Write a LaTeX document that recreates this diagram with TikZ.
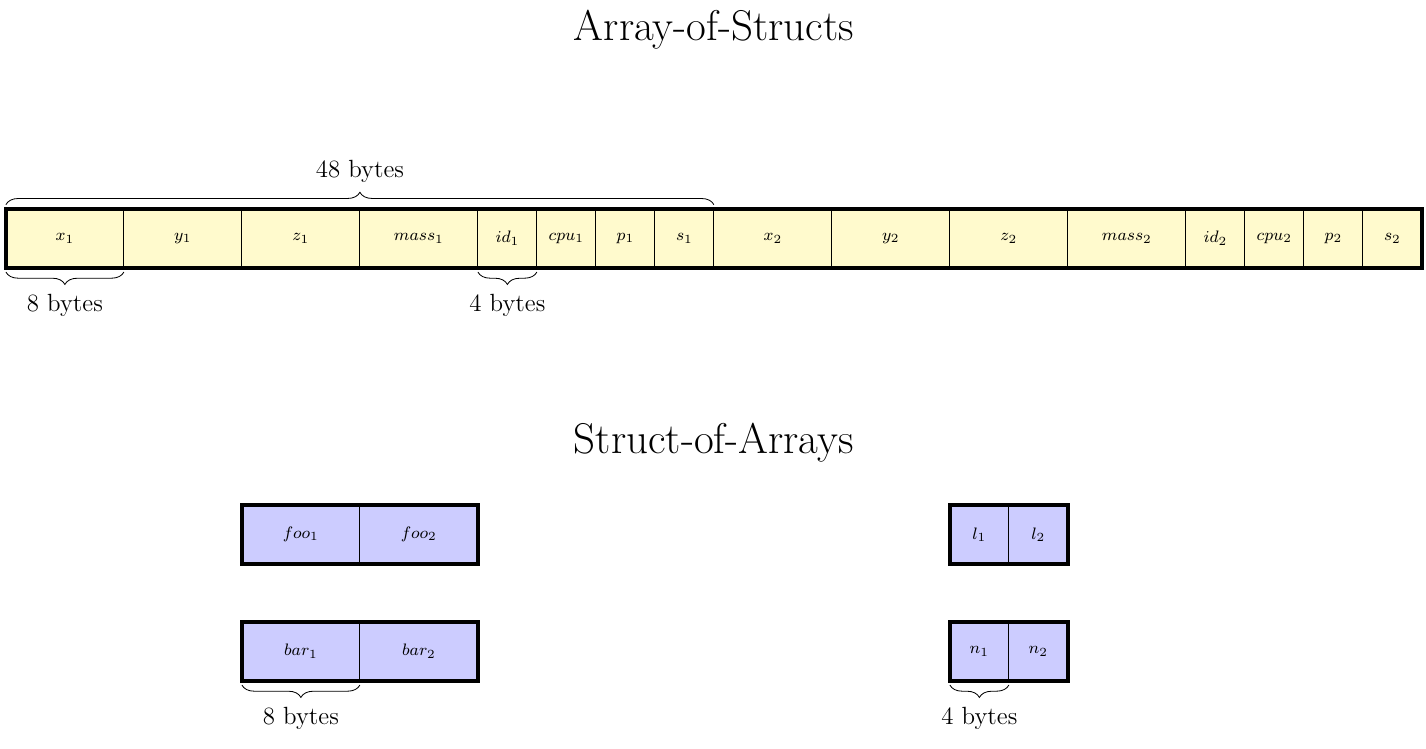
\documentclass[tikz,border=0pt]{standalone}
\usetikzlibrary{decorations.pathreplacing,positioning}
\definecolor{aosfill}{HTML}{FFFACD}
\definecolor{soafill}{HTML}{CCCCFF}
\tikzset{
  cell/.style={draw, thin, minimum height=1cm, inner sep=0pt, outer sep=0pt, anchor=north west, font=\footnotesize},
  bytebrace/.style={decorate, decoration={brace, amplitude=6pt, raise=2pt}},
  bytelabel/.style={font=\large}
}
\begin{document}
\begin{tikzpicture}[x=1cm,y=1cm]
\useasboundingbox (0,0) rectangle (24.17,-12.68);
\node[font=\huge] (aostitle) at (12.1,-0.5) {Array-of-Structs};
\node[font=\huge] (soatitle) at (12.1,-7.5) {Struct-of-Arrays};

% Array of structs row
\foreach \n/\x/\w/\t in {1/0/2/x_1, 2/2/2/y_1, 3/4/2/z_1, 4/6/2/mass_1, 5/8/1/id_1, 6/9/1/cpu_1, 7/10/1/p_1, 8/11/1/s_1,
  9/12/2/x_2, 10/14/2/y_2, 11/16/2/z_2, 12/18/2/mass_2, 13/20/1/id_2, 14/21/1/cpu_2, 15/22/1/p_2, 16/23/1/s_2}
  \node[cell, fill=aosfill, minimum width=\w cm] (a\n) at (0.1+\x,-3.54) {$\t$};
\draw[ultra thick] (a1.north west) rectangle (a16.south east);

% Struct of arrays rows
\foreach \n/\x/\w/\y/\t in {f1/4/2/8.56/foo_1, f2/6/2/8.56/foo_2, b1/4/2/10.54/bar_1, b2/6/2/10.54/bar_2,
  l1/16/1/8.56/l_1, l2/17/1/8.56/l_2, m1/16/1/10.54/n_1, m2/17/1/10.54/n_2}
  \node[cell, fill=soafill, minimum width=\w cm] (\n) at (0.1+\x,-\y) {$\t$};
\draw[ultra thick] (f1.north west) rectangle (f2.south east);
\draw[ultra thick] (b1.north west) rectangle (b2.south east);
\draw[ultra thick] (l1.north west) rectangle (l2.south east);
\draw[ultra thick] (m1.north west) rectangle (m2.south east);

% Braces
\draw[bytebrace] (a1.north west) -- (a8.north east) node[midway, above=9pt, bytelabel] {48 bytes};
\draw[bytebrace] (a1.south east) -- (a1.south west) node[midway, below=9pt, bytelabel] {8 bytes};
\draw[bytebrace] (a5.south east) -- (a5.south west) node[midway, below=9pt, bytelabel] {4 bytes};
\draw[bytebrace] (b1.south east) -- (b1.south west) node[midway, below=9pt, bytelabel] {8 bytes};
\draw[bytebrace] (m1.south east) -- (m1.south west) node[midway, below=9pt, bytelabel] {4 bytes};
\end{tikzpicture}
\end{document}
